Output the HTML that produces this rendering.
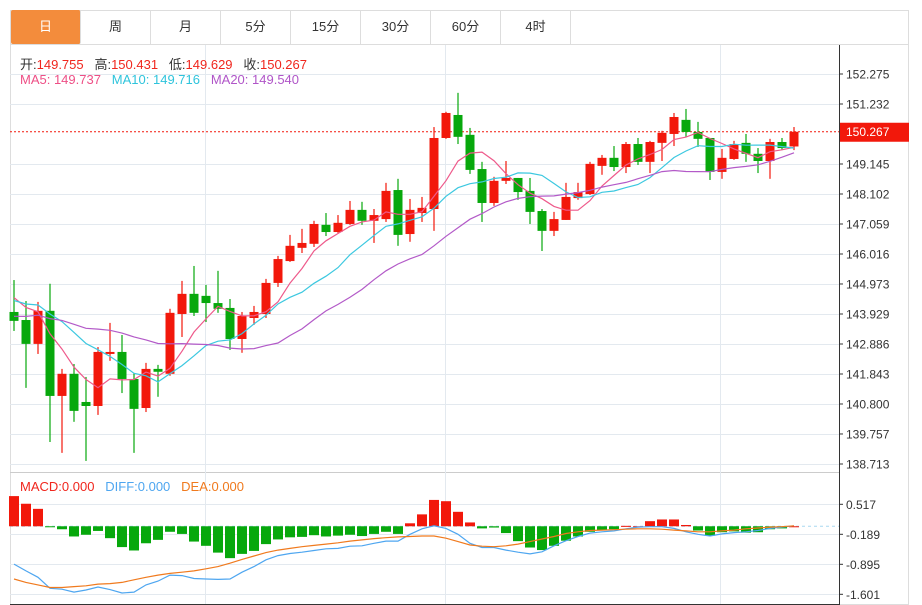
<!DOCTYPE html>
<html><head><meta charset="utf-8">
<style>
body{margin:0;background:#fff;font-family:"Liberation Sans","Noto Sans CJK SC",sans-serif;}
#wrap{position:relative;width:922px;height:605px;overflow:hidden;}
.tab{position:absolute;top:10px;height:34px;width:70px;line-height:34px;text-align:center;font-size:13px;color:#333;border-right:1px solid #ddd;box-sizing:border-box;}
.lab{position:absolute;font-size:13px;white-space:nowrap;}
</style></head><body>
<div id="wrap">
<div style="position:absolute;left:10px;top:10px;width:899px;height:35px;border:1px solid #ddd;border-bottom:1px solid #ddd;box-sizing:border-box"></div>
<div class="tab" style="left:11px;background:#f38c3c;color:#fff;border-radius:2px">日</div>
<div class="tab" style="left:81px">周</div>
<div class="tab" style="left:151px">月</div>
<div class="tab" style="left:221px">5分</div>
<div class="tab" style="left:291px">15分</div>
<div class="tab" style="left:361px">30分</div>
<div class="tab" style="left:431px">60分</div>
<div class="tab" style="left:501px">4时</div>
<svg id="svg" width="922" height="605" style="position:absolute;left:0;top:0"></svg>
<div class="lab" style="left:20px;top:54px;color:#333">开:<span style="color:#f0261d">149.755</span>&nbsp;&nbsp; 高:<span style="color:#f0261d">150.431</span>&nbsp;&nbsp; 低:<span style="color:#f0261d">149.629</span>&nbsp;&nbsp; 收:<span style="color:#f0261d">150.267</span></div>
<div class="lab" style="left:20px;top:72px"><span style="color:#ee4f86">MA5: 149.737</span>&nbsp;&nbsp; <span style="color:#2ec4dc">MA10: 149.716</span>&nbsp;&nbsp; <span style="color:#b055c8">MA20: 149.540</span></div>
<div class="lab" style="left:20px;top:479px"><span style="color:#f0261d">MACD:0.000</span>&nbsp;&nbsp; <span style="color:#4ea6f0">DIFF:0.000</span>&nbsp;&nbsp; <span style="color:#f07a1e">DEA:0.000</span></div>
</div>
<script>
const opens=[144.00,143.72,142.89,144.04,141.08,141.85,140.87,140.73,142.54,142.61,141.67,140.66,142.02,141.85,143.93,144.63,144.56,144.31,144.14,143.06,143.79,143.93,145.01,145.77,146.23,146.37,147.03,146.78,147.06,147.55,147.17,147.23,148.24,146.71,147.44,147.58,150.05,150.85,150.16,148.97,147.79,148.56,148.66,148.21,147.51,146.82,147.20,147.96,148.10,149.08,149.36,149.04,149.84,149.22,149.88,150.19,150.68,150.26,150.05,148.87,149.32,149.88,149.50,149.25,149.91,149.755];
const closes=[143.69,142.89,144.04,141.08,141.85,140.56,140.73,142.61,142.61,141.67,140.63,142.02,141.92,143.97,144.63,143.97,144.31,144.11,143.06,143.86,144.00,145.01,145.84,146.30,146.40,147.06,146.78,147.10,147.55,147.17,147.37,148.21,146.68,147.55,147.62,150.05,150.92,150.09,148.94,147.79,148.56,148.66,148.17,147.48,146.82,147.23,148.00,148.17,149.15,149.36,149.04,149.84,149.22,149.91,150.23,150.78,150.26,150.02,148.87,149.36,149.84,149.50,149.25,149.91,149.70,150.267];
const highs=[145.11,144.38,144.35,144.98,142.02,142.19,141.74,142.78,143.62,143.20,141.88,142.23,142.16,144.11,145.08,145.60,144.94,145.43,144.45,144.00,144.21,145.15,145.95,146.68,146.89,147.17,147.44,147.37,147.86,147.83,147.58,148.49,148.63,147.93,148.00,150.43,150.96,151.62,150.40,149.22,148.70,149.25,148.66,148.66,147.58,147.48,148.49,148.49,149.22,149.46,149.77,149.91,150.05,149.95,150.30,150.92,151.06,150.61,150.05,149.67,149.95,150.19,149.70,150.02,150.05,150.431];
const lows=[143.34,141.36,142.54,139.48,139.10,140.18,138.82,140.42,142.30,141.18,139.10,140.52,141.05,141.78,143.13,143.86,143.65,143.97,142.68,142.58,143.55,143.79,144.87,145.74,146.05,146.26,146.64,146.75,147.03,147.03,146.40,147.13,146.30,146.44,147.13,146.82,150.02,149.84,148.80,147.13,147.69,148.45,147.90,147.06,146.12,146.64,147.20,147.90,148.07,148.77,148.90,148.83,149.11,148.83,149.25,149.77,150.09,149.74,148.59,148.63,149.29,149.22,148.83,148.63,149.63,149.629];
const priorCloses=[143.0,143.2,143.4,143.1,143.3,143.5,143.2,143.4,143.6,143.3,144.1,144.4,144.2,144.5,144.3,144.6,144.8,144.9,144.5];
const priceTicks=[152.275,151.232,149.145,148.102,147.059,146.016,144.973,143.929,142.886,141.843,140.800,139.757,138.713];
const macdHist=[0.71,0.53,0.41,-0.02,-0.07,-0.24,-0.20,-0.11,-0.28,-0.49,-0.57,-0.40,-0.32,-0.13,-0.18,-0.36,-0.46,-0.62,-0.75,-0.65,-0.58,-0.42,-0.31,-0.26,-0.25,-0.21,-0.24,-0.22,-0.20,-0.23,-0.18,-0.13,-0.18,0.07,0.28,0.62,0.59,0.34,0.09,-0.05,-0.03,-0.16,-0.35,-0.50,-0.56,-0.46,-0.34,-0.24,-0.13,-0.09,-0.07,0.01,0.00,0.12,0.16,0.16,0.03,-0.10,-0.22,-0.14,-0.12,-0.15,-0.14,-0.07,-0.05,0.00];
const diffVals=[-0.89,-1.05,-1.20,-1.46,-1.48,-1.55,-1.50,-1.43,-1.49,-1.57,-1.55,-1.38,-1.29,-1.15,-1.16,-1.23,-1.24,-1.25,-1.24,-1.08,-0.95,-0.79,-0.69,-0.64,-0.61,-0.57,-0.53,-0.52,-0.47,-0.46,-0.40,-0.35,-0.35,-0.19,-0.06,0.01,-0.05,-0.19,-0.40,-0.50,-0.50,-0.56,-0.61,-0.65,-0.60,-0.46,-0.34,-0.24,-0.16,-0.13,-0.11,-0.06,-0.02,-0.01,-0.01,-0.05,-0.13,-0.19,-0.23,-0.18,-0.15,-0.13,-0.10,-0.05,-0.02,0.01];
const deaVals=[-1.24,-1.32,-1.38,-1.44,-1.44,-1.42,-1.40,-1.36,-1.35,-1.32,-1.26,-1.20,-1.15,-1.11,-1.08,-1.05,-1.00,-0.95,-0.87,-0.78,-0.70,-0.62,-0.56,-0.52,-0.48,-0.45,-0.42,-0.39,-0.35,-0.32,-0.29,-0.27,-0.25,-0.24,-0.23,-0.23,-0.28,-0.36,-0.44,-0.47,-0.48,-0.46,-0.42,-0.36,-0.30,-0.24,-0.17,-0.13,-0.10,-0.09,-0.08,-0.07,-0.06,-0.06,-0.07,-0.09,-0.11,-0.13,-0.13,-0.11,-0.09,-0.06,-0.04,-0.02,-0.01,0.01];
const macdTicks=[0.517,-0.189,-0.895,-1.601];
const lastPrice=150.267;

const NS='http://www.w3.org/2000/svg';
const svg=document.getElementById('svg');
function mk(tag,attrs,parent){const e=document.createElementNS(NS,tag);for(const k in attrs)e.setAttribute(k,attrs[k]);(parent||svg).appendChild(e);return e;}
const xOf=i=>14+i*12;
const yP=p=>74+(152.275-p)*(390/(152.275-138.713));
const yM=v=>504.3+(0.517-v)*(30/0.706);
const RED='#f2180b',GREEN='#07a80c';

// frame and grid
let g=mk('g',{});


mk('rect',{x:10.5,y:44.5,width:898,height:560,fill:'none',stroke:'#ddd'},g);
mk('line',{x1:10,y1:472.5,x2:839,y2:472.5,stroke:'#ccc'},g);
[205.5,445.5,720.5].forEach(x=>mk('line',{x1:x,y1:45,x2:x,y2:604,stroke:'#e3e9ef'},g));
priceTicks.forEach(t=>{const y=Math.round(yP(t))+0.5;mk('line',{x1:10,y1:y,x2:839,y2:y,stroke:'#e3e9ef'},g);});
macdTicks.forEach(t=>{const y=Math.round(yM(t))+0.5;mk('line',{x1:10,y1:y,x2:839,y2:y,stroke:'#e3e9ef'},g);});
mk('line',{x1:839.5,y1:45,x2:839.5,y2:604,stroke:'#333'},g);
mk('line',{x1:10,y1:604.5,x2:840,y2:604.5,stroke:'#333'},g);

// axis labels
priceTicks.forEach(t=>{const y=yP(t);
 mk('line',{x1:839,y1:y,x2:843,y2:y,stroke:'#333'},g);
 const tx=mk('text',{x:846,y:y+4.5,'font-size':12,fill:'#333','font-family':'Liberation Sans, sans-serif'});
 tx.textContent=t.toFixed(3);
 
 });
macdTicks.forEach(t=>{const y=yM(t);
 mk('line',{x1:839,y1:y,x2:843,y2:y,stroke:'#333'},g);
 const tx=mk('text',{x:846,y:y+4.5,'font-size':12,fill:'#333','font-family':'Liberation Sans, sans-serif'});
 tx.textContent=t.toFixed(3);
 
 });

// last price line & tag
const ly=yP(lastPrice);
const ll=mk('line',{x1:10,y1:ly,x2:839,y2:ly,stroke:'#f2180b','stroke-dasharray':'2,2','stroke-width':1});


const tag=mk('rect',{x:840,y:ly-9,width:69,height:19,fill:'#f2180b'});


const tt=mk('text',{x:846,y:ly+4.5,'font-size':12,fill:'#fff','font-family':'Liberation Sans, sans-serif'});
tt.textContent=lastPrice.toFixed(3);

// candles
closes.forEach((c,i)=>{
 const o=opens[i],up=c>=o,col=up?RED:GREEN,x=xOf(i);
 const cg=mk('g',{});
 
 
 mk('line',{x1:x,y1:yP(highs[i]),x2:x,y2:yP(lows[i]),stroke:col,'stroke-width':1.2},cg);
 const top=yP(Math.max(o,c)),bot=yP(Math.min(o,c));
 mk('rect',{x:x-4.5,y:top,width:9,height:Math.max(1.5,bot-top),fill:col},cg);
});

// moving averages
const all=priorCloses.concat(closes);
function ma(n){return closes.map((_,i)=>{let s=0;const k=i+priorCloses.length;for(let j=k-n+1;j<=k;j++)s+=all[j];return s/n;});}
[[5,'#ee5a8b','ma5-line'],[10,'#3cc8e0','ma10-line'],[20,'#b35ac8','ma20-line']].forEach(([n,col,name])=>{
 const v=ma(n);
 const pl=mk('polyline',{points:v.map((p,i)=>xOf(i)+','+yP(p).toFixed(1)).join(' '),fill:'none',stroke:col,'stroke-width':1.2});
 
 
});

// MACD
const z=yM(0);
const zl=mk('line',{x1:10,y1:z,x2:839,y2:z,stroke:'#a8d8f0','stroke-dasharray':'3,3'});


macdHist.forEach((v,i)=>{
 const y=yM(v);
 const r=mk('rect',{x:xOf(i)-5,y:Math.min(y,z),width:10,height:Math.max(1,Math.abs(y-z)),fill:v>=0?RED:GREEN});
 
 
});
[[diffVals,'#4ea6f0','diff-line'],[deaVals,'#f07a1e','dea-line']].forEach(([arr,col,name])=>{
 const pl=mk('polyline',{points:arr.map((v,i)=>xOf(i)+','+yM(v).toFixed(1)).join(' '),fill:'none',stroke:col,'stroke-width':1.2});
 
 
});
</script>
</body></html>
